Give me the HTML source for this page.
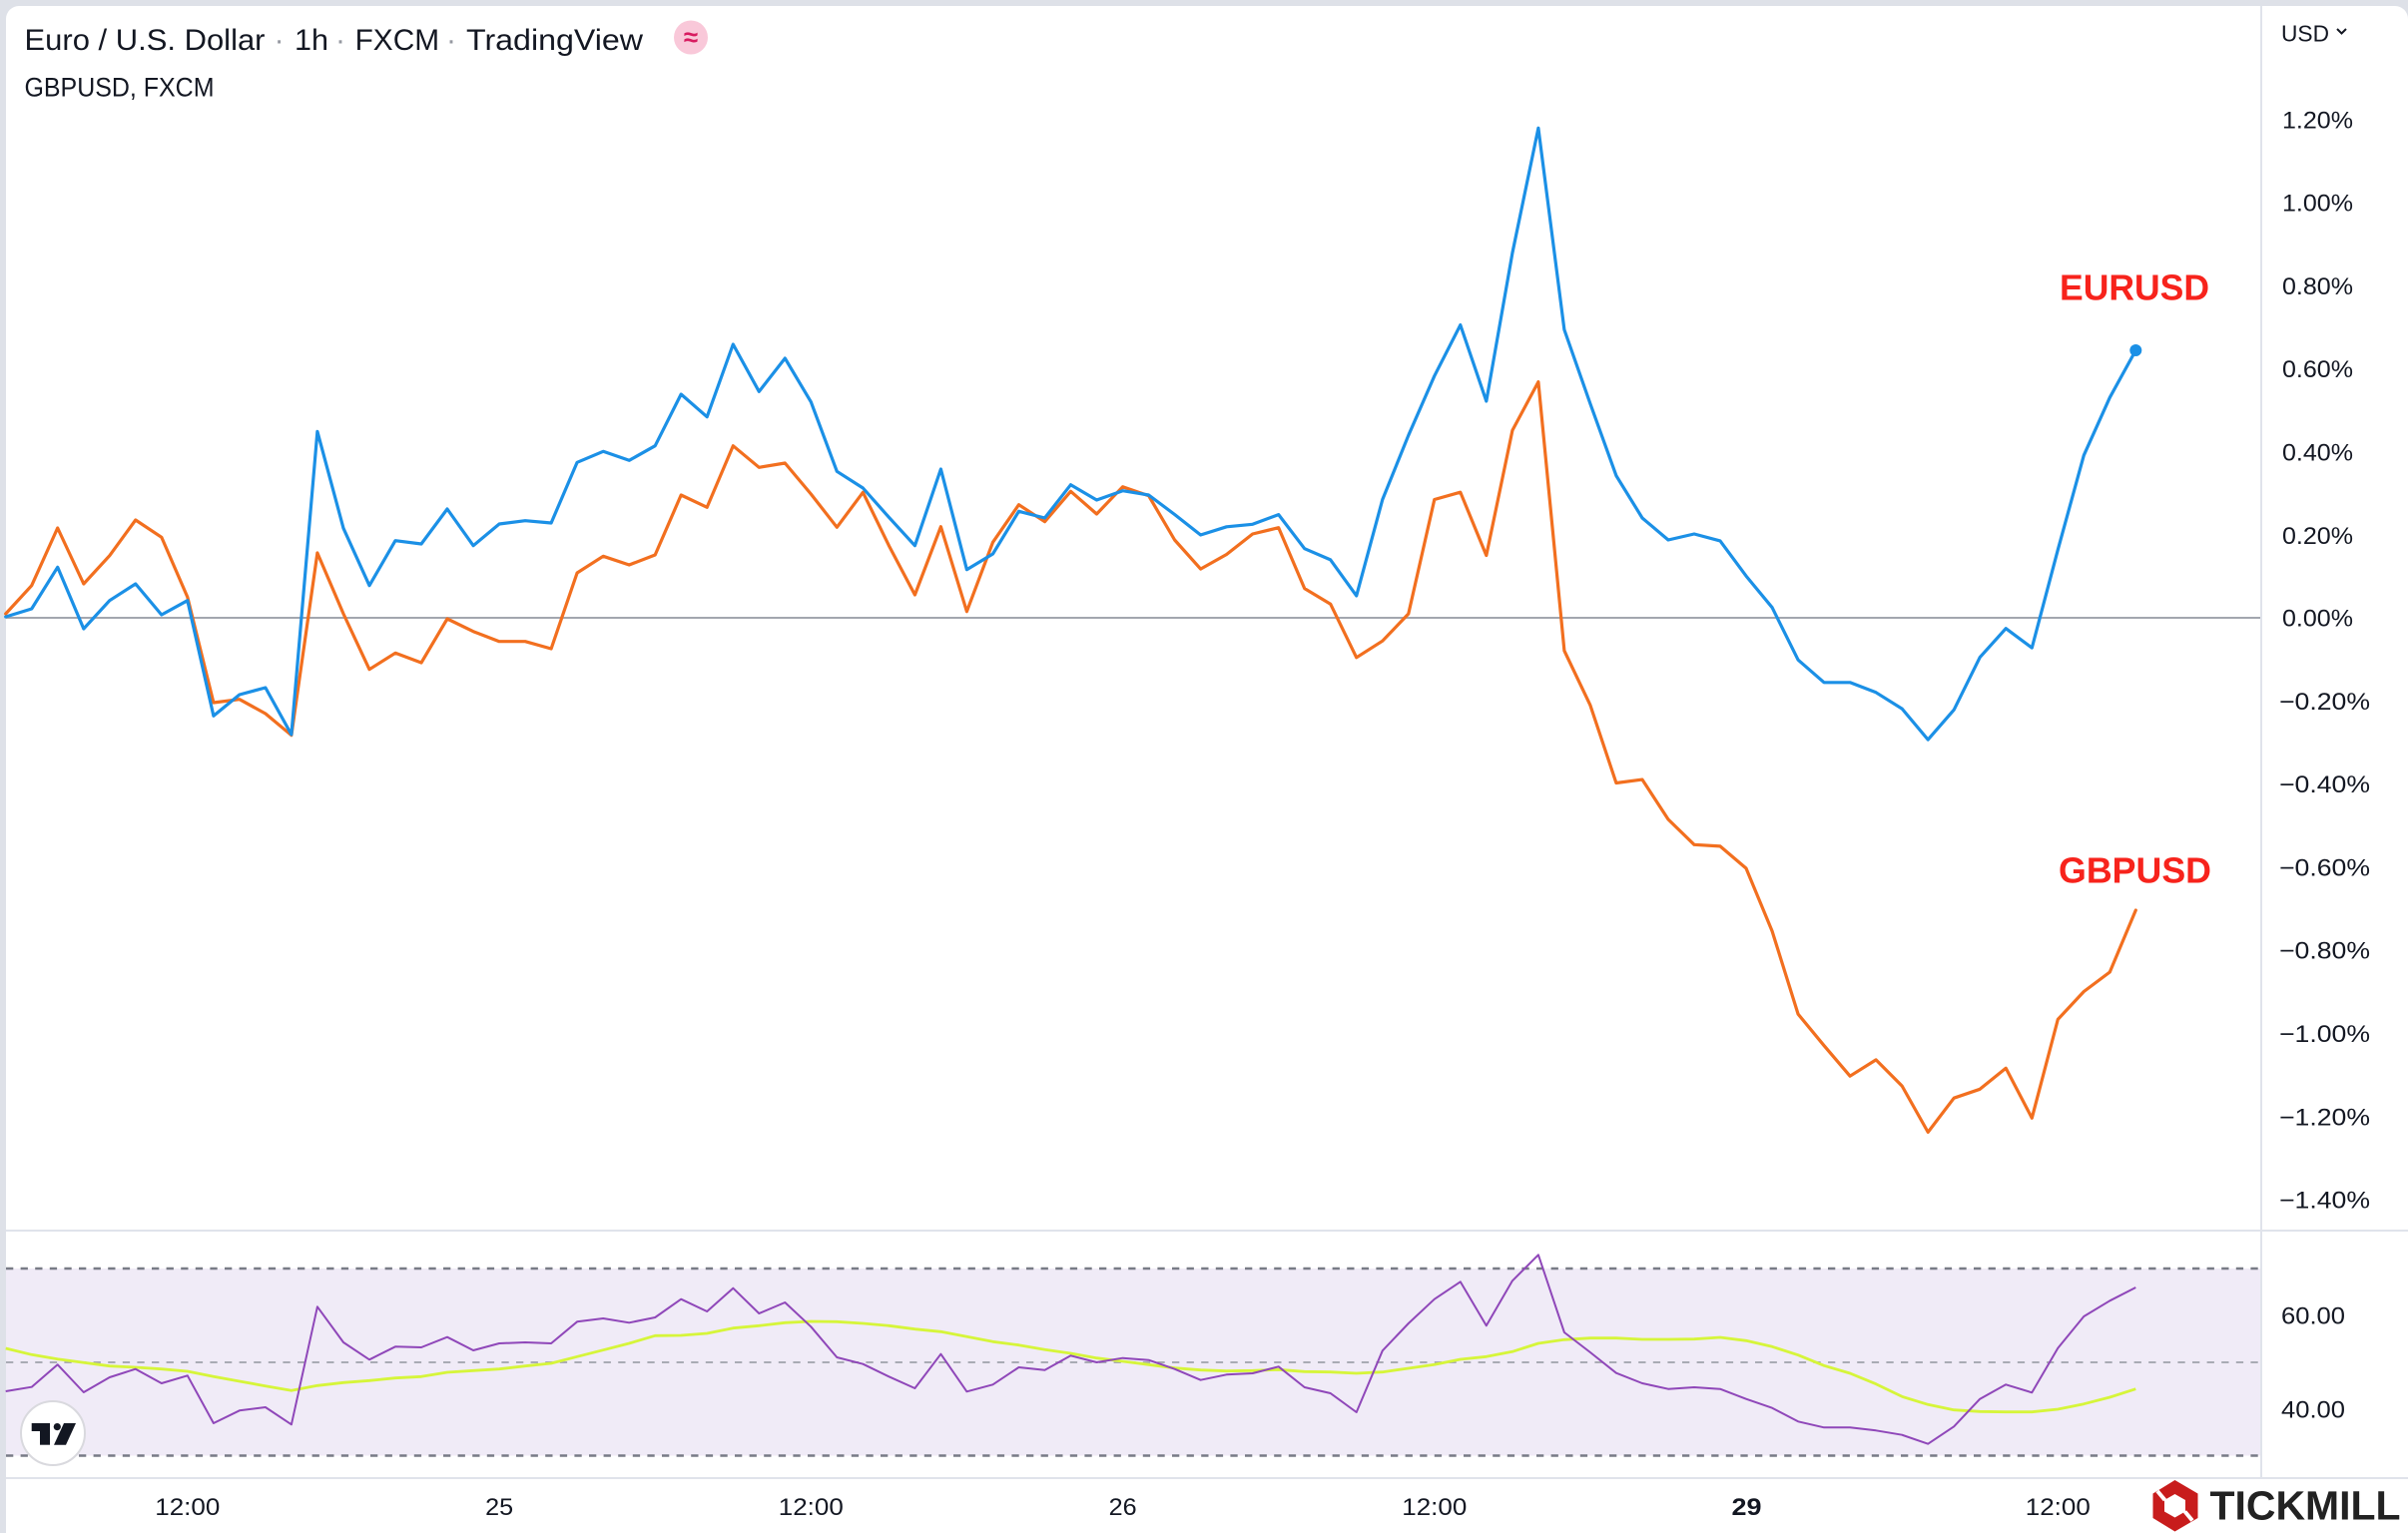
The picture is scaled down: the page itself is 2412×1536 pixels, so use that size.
<!DOCTYPE html>
<html>
<head>
<meta charset="utf-8">
<style>
  html,body{margin:0;padding:0;background:#dee1e8;}
  svg{display:block;}
  text{font-family:"Liberation Sans",Arial,sans-serif;}
</style>
</head>
<body>
<svg width="2412" height="1536" viewBox="0 0 2412 1536" xmlns="http://www.w3.org/2000/svg">
  <rect x="0" y="0" width="2412" height="1536" fill="#dee1e8"/>
  <rect x="6" y="6" width="2406" height="1560" rx="13" ry="13" fill="#ffffff"/>

  <!-- header -->
  <text x="24.5" y="50" font-size="30" fill="#131722" textLength="241" lengthAdjust="spacingAndGlyphs">Euro / U.S. Dollar</text>
  <text x="279.6" y="50" font-size="30" fill="#9598a1" text-anchor="middle">·</text>
  <text x="295" y="50" font-size="30" fill="#131722" textLength="34" lengthAdjust="spacingAndGlyphs">1h</text>
  <text x="341" y="50" font-size="30" fill="#9598a1" text-anchor="middle">·</text>
  <text x="355.6" y="50" font-size="30" fill="#131722" textLength="84.5" lengthAdjust="spacingAndGlyphs">FXCM</text>
  <text x="452" y="50" font-size="30" fill="#9598a1" text-anchor="middle">·</text>
  <text x="467" y="50" font-size="30" fill="#131722" textLength="177" lengthAdjust="spacingAndGlyphs">TradingView</text>
  <circle cx="692" cy="37.5" r="17" fill="#f9c8d9"/>
  <text x="692" y="46" font-size="26" font-weight="bold" fill="#d81b60" text-anchor="middle">≈</text>
  <text x="24.5" y="96.7" font-size="27" fill="#131722" textLength="190" lengthAdjust="spacingAndGlyphs">GBPUSD, FXCM</text>

  <!-- separators -->
  <line x1="2265" y1="6" x2="2265" y2="1481" stroke="#e0e3eb" stroke-width="2"/>
  <line x1="6" y1="1233" x2="2412" y2="1233" stroke="#e0e3eb" stroke-width="2"/>
  <line x1="6" y1="1481" x2="2412" y2="1481" stroke="#e0e3eb" stroke-width="2"/>

  <!-- right axis -->
  <text x="2285" y="41.7" font-size="23" fill="#131722" textLength="48" lengthAdjust="spacingAndGlyphs">USD</text>
  <polyline points="2341,29 2345.5,33.5 2350,29" fill="none" stroke="#131722" stroke-width="2"/>
  <g font-size="24" fill="#131722">
    <text x="2286" y="128.3" textLength="71" lengthAdjust="spacingAndGlyphs">1.20%</text>
    <text x="2286" y="211.6" textLength="71" lengthAdjust="spacingAndGlyphs">1.00%</text>
    <text x="2286" y="294.9" textLength="71" lengthAdjust="spacingAndGlyphs">0.80%</text>
    <text x="2286" y="378.2" textLength="71" lengthAdjust="spacingAndGlyphs">0.60%</text>
    <text x="2286" y="461.5" textLength="71" lengthAdjust="spacingAndGlyphs">0.40%</text>
    <text x="2286" y="544.8" textLength="71" lengthAdjust="spacingAndGlyphs">0.20%</text>
    <text x="2286" y="627.5" textLength="71" lengthAdjust="spacingAndGlyphs">0.00%</text>
    <text x="2283" y="710.8" textLength="91" lengthAdjust="spacingAndGlyphs">−0.20%</text>
    <text x="2283" y="794.1" textLength="91" lengthAdjust="spacingAndGlyphs">−0.40%</text>
    <text x="2283" y="877.4" textLength="91" lengthAdjust="spacingAndGlyphs">−0.60%</text>
    <text x="2283" y="960.7" textLength="91" lengthAdjust="spacingAndGlyphs">−0.80%</text>
    <text x="2283" y="1044" textLength="91" lengthAdjust="spacingAndGlyphs">−1.00%</text>
    <text x="2283" y="1127.3" textLength="91" lengthAdjust="spacingAndGlyphs">−1.20%</text>
    <text x="2283" y="1210.6" textLength="91" lengthAdjust="spacingAndGlyphs">−1.40%</text>
    <text x="2285" y="1326.3" textLength="64" lengthAdjust="spacingAndGlyphs">60.00</text>
    <text x="2285" y="1420.3" textLength="64" lengthAdjust="spacingAndGlyphs">40.00</text>
  </g>

  <!-- main pane -->
  <line x1="6" y1="619" x2="2264" y2="619" stroke="#a3a6af" stroke-width="2"/>
  <polyline fill="none" stroke="#f26f1f" stroke-width="3.2" stroke-linejoin="round" stroke-linecap="round" points="5.7,615 31.7,586.7 57.7,529 83.8,585 109.8,556.7 135.8,521 161.8,538.3 187.8,598.3 213.9,704 239.9,700.7 265.9,715 291.9,736.7 317.9,554 344,615 370,670.7 396,654.3 422,664 448,620 474.1,632.7 500.1,642.7 526.1,642.7 552.1,650 578.1,574 604.2,557.3 630.2,566 656.2,556 682.2,496 708.2,508.3 734.3,446.7 760.3,468.3 786.3,464 812.3,495 838.3,528.3 864.4,493.3 890.4,546.7 916.4,596 942.4,527.7 968.4,612.7 994.5,543.3 1020.5,505.7 1046.5,522.7 1072.5,492.3 1098.5,515 1124.6,487.7 1150.6,496.7 1176.6,541 1202.6,570.1 1228.6,555.5 1254.7,535 1280.7,528.7 1306.7,589.6 1332.7,605.2 1358.7,658.8 1384.8,642.2 1410.8,615 1436.8,500.5 1462.8,493.2 1488.8,556.5 1514.9,431.3 1540.9,382.6 1566.9,652 1592.9,706.6 1618.9,784.5 1645,781.1 1671,821 1697,846.3 1723,847.9 1749,870 1775.1,933 1801.1,1016.1 1827.1,1047.7 1853.1,1078.2 1879.1,1061.9 1905.2,1088.1 1931.2,1134.4 1957.2,1100.2 1983.2,1091.3 2009.2,1070.3 2035.3,1120.2 2061.3,1021.4 2087.3,993.5 2113.3,974 2139.3,912"/>
  <polyline fill="none" stroke="#1b90e6" stroke-width="3.2" stroke-linejoin="round" stroke-linecap="round" points="5.7,618 31.7,610 57.7,568.3 83.8,630 109.8,601.7 135.8,585 161.8,616 187.8,601.7 213.9,717.3 239.9,696 265.9,689 291.9,736 317.9,432.3 344,529.3 370,586.7 396,541.7 422,545 448,510 474.1,546.7 500.1,525 526.1,521.7 552.1,524 578.1,463.3 604.2,452.3 630.2,461.3 656.2,446.7 682.2,395 708.2,417.7 734.3,345 760.3,392.3 786.3,359 812.3,402.7 838.3,472.3 864.4,489 890.4,518.3 916.4,546.7 942.4,470 968.4,570.7 994.5,555 1020.5,512.3 1046.5,519 1072.5,485.7 1098.5,501 1124.6,491.7 1150.6,496 1176.6,515.5 1202.6,536 1228.6,527.8 1254.7,525.3 1280.7,515.6 1306.7,549.7 1332.7,560.9 1358.7,596.9 1384.8,500.5 1410.8,436.2 1436.8,376.7 1462.8,325.6 1488.8,402 1514.9,253.5 1540.9,128.3 1566.9,330.4 1592.9,404.5 1618.9,476.6 1645,519 1671,541 1697,535 1723,541.9 1749,577.1 1775.1,608.7 1801.1,661.2 1827.1,683.8 1853.1,683.8 1879.1,693.8 1905.2,710.1 1931.2,741.1 1957.2,711.2 1983.2,658.6 2009.2,629.7 2035.3,649.1 2061.3,550.8 2087.3,456.2 2113.3,398.3 2139.3,351"/>
  <circle cx="2139.3" cy="351" r="6" fill="#1b90e6"/>

  <text x="2063" y="300.5" font-size="36" font-weight="bold" fill="#f7231c" textLength="150" lengthAdjust="spacingAndGlyphs">EURUSD</text>
  <text x="2062" y="884.5" font-size="36" font-weight="bold" fill="#f7231c" textLength="153" lengthAdjust="spacingAndGlyphs">GBPUSD</text>

  <!-- RSI pane -->
  <rect x="6" y="1271" width="2258" height="187.5" fill="#f0ebf7"/>
  <line x1="6" y1="1271" x2="2264" y2="1271" stroke="#787b86" stroke-width="2.5" stroke-dasharray="7.3,7.3"/>
  <line x1="6" y1="1365" x2="2264" y2="1365" stroke="#a9abb4" stroke-width="2" stroke-dasharray="7.3,7.3"/>
  <line x1="6" y1="1458.5" x2="2264" y2="1458.5" stroke="#787b86" stroke-width="2.5" stroke-dasharray="7.3,7.3"/>

  <polyline fill="none" stroke="#d6f53a" stroke-width="2.8" stroke-linejoin="round" points="5.7,1351 31.7,1357.3 57.7,1361.7 83.8,1365.3 109.8,1368.7 135.8,1370 161.8,1371.7 187.8,1374 213.9,1379.3 239.9,1384 265.9,1388.7 291.9,1393.3 317.9,1388.3 344,1385.3 370,1383.3 396,1380.7 422,1379.3 448,1375 474.1,1373.3 500.1,1371.7 526.1,1368.7 552.1,1366 578.1,1359.3 604.2,1352.7 630.2,1346 656.2,1338.3 682.2,1338 708.2,1336 734.3,1330.7 760.3,1328.3 786.3,1325.3 812.3,1324 838.3,1324.3 864.4,1326 890.4,1328.3 916.4,1331.7 942.4,1334.3 968.4,1339.3 994.5,1344.3 1020.5,1347.7 1046.5,1352.3 1072.5,1356 1098.5,1360.7 1124.6,1364 1150.6,1367.3 1176.6,1370.7 1202.6,1372.7 1228.6,1373.7 1254.7,1373.3 1280.7,1372.3 1306.7,1374.3 1332.7,1374.7 1358.7,1376 1384.8,1374.7 1410.8,1371 1436.8,1367.3 1462.8,1362 1488.8,1359.3 1514.9,1354.3 1540.9,1346 1566.9,1342.3 1592.9,1340.7 1618.9,1340.7 1645,1342 1671,1342 1697,1341.7 1723,1340 1749,1343.3 1775.1,1349.3 1801.1,1357.7 1827.1,1368.3 1853.1,1376 1879.1,1386.7 1905.2,1399.3 1931.2,1407.3 1957.2,1412.7 1983.2,1414.3 2009.2,1414.7 2035.3,1414.7 2061.3,1412 2087.3,1406.7 2113.3,1400 2139.3,1391.7"/>
  <polyline fill="none" stroke="#8f47b9" stroke-width="2" stroke-linejoin="round" points="5.7,1394 31.7,1389.7 57.7,1367.3 83.8,1395 109.8,1380 135.8,1371.7 161.8,1386 187.8,1378.3 213.9,1426 239.9,1413.3 265.9,1410 291.9,1427.3 317.9,1309.3 344,1345 370,1362.3 396,1349.3 422,1350 448,1339.7 474.1,1353 500.1,1346 526.1,1345 552.1,1346 578.1,1324.3 604.2,1321 630.2,1325.3 656.2,1320 682.2,1301.7 708.2,1314 734.3,1290.7 760.3,1316 786.3,1305 812.3,1329.3 838.3,1360 864.4,1366.7 890.4,1379.3 916.4,1391 942.4,1356.7 968.4,1394.3 994.5,1387.3 1020.5,1370 1046.5,1372.7 1072.5,1358.3 1098.5,1365 1124.6,1360.7 1150.6,1362.7 1176.6,1371.7 1202.6,1382.7 1228.6,1377.3 1254.7,1376 1280.7,1369.3 1306.7,1390 1332.7,1396 1358.7,1415 1384.8,1353.3 1410.8,1326 1436.8,1301.7 1462.8,1284.3 1488.8,1328.3 1514.9,1283.3 1540.9,1257.3 1566.9,1335 1592.9,1355 1618.9,1375.7 1645,1386 1671,1391.7 1697,1390 1723,1391.7 1749,1401.7 1775.1,1410.7 1801.1,1424.3 1827.1,1430.3 1853.1,1430.3 1879.1,1433.3 1905.2,1437.7 1931.2,1446.7 1957.2,1429.3 1983.2,1401.7 2009.2,1387.3 2035.3,1395.3 2061.3,1350.7 2087.3,1319 2113.3,1303.3 2139.3,1290"/>

  <!-- TradingView logo badge -->
  <circle cx="53" cy="1436" r="32" fill="#ffffff" stroke="#d9d9de" stroke-width="2"/>
  <g fill="#131722">
    <rect x="31.7" y="1426" width="18.3" height="8"/>
    <rect x="40" y="1426" width="10" height="21.7"/>
    <circle cx="57.3" cy="1429.6" r="3.6"/>
    <polygon points="64,1426 76,1426 66,1447.7 54,1447.7"/>
  </g>

  <!-- time axis -->
  <g font-size="24" fill="#131722" text-anchor="middle">
    <text x="187.8" y="1518" textLength="65" lengthAdjust="spacingAndGlyphs">12:00</text>
    <text x="500.1" y="1518" textLength="28" lengthAdjust="spacingAndGlyphs">25</text>
    <text x="812.3" y="1518" textLength="65" lengthAdjust="spacingAndGlyphs">12:00</text>
    <text x="1124.6" y="1518" textLength="28" lengthAdjust="spacingAndGlyphs">26</text>
    <text x="1436.8" y="1518" textLength="65" lengthAdjust="spacingAndGlyphs">12:00</text>
    <text x="1749.5" y="1518" font-weight="bold" textLength="30" lengthAdjust="spacingAndGlyphs">29</text>
    <text x="2061.3" y="1518" textLength="65" lengthAdjust="spacingAndGlyphs">12:00</text>
  </g>

  <!-- Tickmill logo -->
  <rect x="2150" y="1482" width="262" height="54" fill="#ffffff"/>
  <polygon points="2178.5,1483 2201.5,1496.5 2201.5,1521 2178.5,1534.5 2156.5,1521 2156.5,1496.5" fill="#c81c1c"/>
  <polygon points="2178.5,1497 2189,1503 2189,1514.5 2178.5,1520.5 2168,1514.5 2168,1503" fill="#ffffff"/>
  <line x1="2168.5" y1="1503" x2="2161" y2="1494" stroke="#ffffff" stroke-width="4"/>
  <line x1="2188.5" y1="1514.5" x2="2196" y2="1523.5" stroke="#ffffff" stroke-width="4"/>
  <text x="2213.5" y="1522.7" font-size="41" font-weight="bold" fill="#222222" textLength="191" lengthAdjust="spacingAndGlyphs">TICKMILL</text>
</svg>
</body>
</html>
